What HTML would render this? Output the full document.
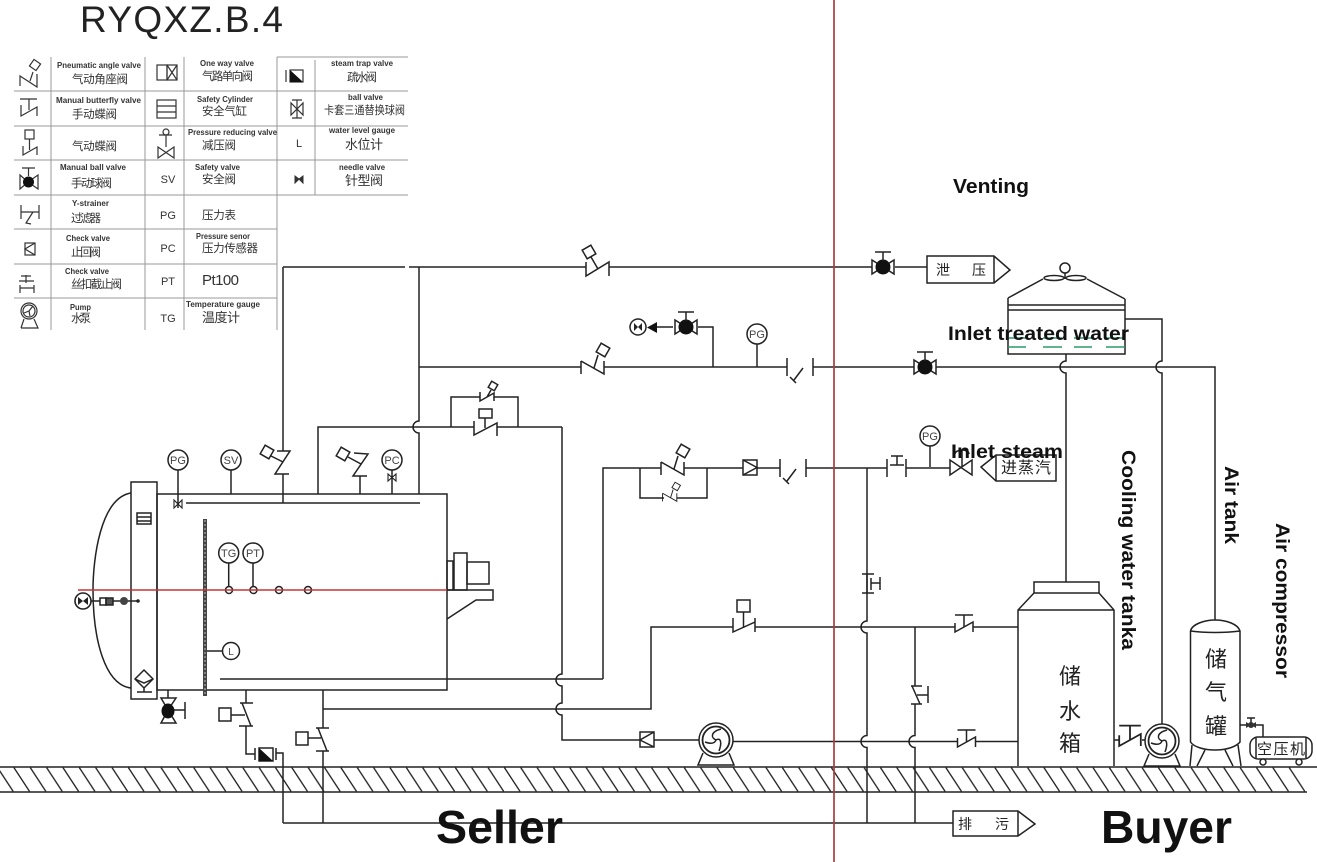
<!DOCTYPE html>
<html><head><meta charset="utf-8"><style>
html,body{margin:0;padding:0;background:#fff;width:1317px;height:862px;overflow:hidden}
svg{display:block}
.l{fill:none;stroke:#222;stroke-width:1.5}
.t{fill:none;stroke:#333;stroke-width:1.2}
.e{font-family:"Liberation Sans",sans-serif;font-size:8px;font-weight:bold;fill:#333}
.c{font-family:"Liberation Sans","Noto Sans CJK SC",sans-serif;font-size:11.5px;fill:#333}
.s{font-family:"Liberation Sans",sans-serif;font-size:11px;fill:#333;text-anchor:middle}
.b{font-family:"Liberation Sans",sans-serif;font-weight:bold;fill:#111}
.g{font-family:"Liberation Sans",sans-serif;font-size:11px;fill:#444;text-anchor:middle}
.k{font-family:"Liberation Sans","Noto Sans CJK SC",sans-serif;fill:#222;text-anchor:middle}
</style></head><body>
<svg width="1317" height="862" viewBox="0 0 1317 862" xmlns="http://www.w3.org/2000/svg">
<defs>
<g id="ball" class="l"><path d="M-11,-7V7L0,0ZM11,-7V7L0,0Z" fill="#fff"/><circle r="7.5" fill="#111" stroke="none"/><path d="M0,-6V-15M-8,-15H8"/></g>
<g id="pneu" class="l"><path d="M-11,-5V9L12,-5V9"/><rect x="-13" y="-20" width="10" height="10" transform="rotate(-30 -8 -15)" fill="#fff"/><path d="M-6,-10L1,2"/></g>
<g id="pneu2" class="l"><path d="M-12,-6V7M-12,-6L11,7V-6"/><rect x="5" y="-22" width="10" height="10" transform="rotate(30 10 -17)" fill="#fff"/><path d="M5,-12L1,1"/></g>
<g id="strainer" class="l"><path d="M-13,-9V9M13,-9V9M3,1L-6,13M-10,10L-4,16"/></g>
<g id="stop" class="l"><path d="M-9,-4V5L9,-5V5M0,0V-12M-9,-12H9"/></g>
<g id="check" class="l"><rect x="-7" y="-8" width="14" height="15" fill="#fff"/><path d="M7,-8L-7,0L7,7"/></g>
<g id="pump"><g class="l"><path d="M-13,13L-18,25H18L13,13"/><circle r="17" fill="#fff"/><circle r="13.500" stroke-width="1.800"/><path d="M0,0C-5,-2 -6,-8 5,-11M0,0C5,-3 6,3 3,11M0,0C-2,5 -8,3 -11,2"/></g></g>
<pattern id="hatch" x="13.550" y="767" width="16.350" height="25" patternUnits="userSpaceOnUse"><path d="M0,0L16.350,25" stroke="#222" stroke-width="1.3" fill="none"/></pattern>
</defs>

<!-- Title -->
<text x="80" y="32" font-family="Liberation Sans,sans-serif" font-size="37" fill="#222" textLength="203">RYQXZ.B.4</text>

<!-- Legend grid -->
<path d="M277,57H408M14,91H408M14,126H408M14,160H408M14,195H408M14,229H277M14,264H277M14,298H277M51,57V330M145,57V330M184,57V330M277,57V330M315,60V195" fill="none" stroke="#999" stroke-width="1"/>

<text class="e" x="57" y="68" textLength="84" lengthAdjust="spacingAndGlyphs">Pneumatic angle valve</text><text class="c" x="72" y="83" textLength="56">气动角座阀</text>
<text class="e" x="200" y="66" textLength="54" lengthAdjust="spacingAndGlyphs">One way valve</text><text class="c" x="202" y="80" textLength="51">气路单向阀</text>
<text class="e" x="331" y="66" textLength="62" lengthAdjust="spacingAndGlyphs">steam trap valve</text><text class="c" x="347" y="81" textLength="30">疏水阀</text>
<text class="e" x="56" y="103" textLength="85" lengthAdjust="spacingAndGlyphs">Manual butterfly valve</text><text class="c" x="72" y="118" textLength="45">手动蝶阀</text>
<text class="e" x="197" y="102" textLength="56" lengthAdjust="spacingAndGlyphs">Safety Cylinder</text><text class="c" x="202" y="115" textLength="45">安全气缸</text>
<text class="e" x="348" y="100" textLength="35" lengthAdjust="spacingAndGlyphs">ball valve</text><text class="c" x="324" y="114" textLength="81" lengthAdjust="spacingAndGlyphs">卡套三通替换球阀</text>
<text class="c" x="72" y="150" textLength="45">气动蝶阀</text>
<text class="e" x="188" y="135" textLength="89" lengthAdjust="spacingAndGlyphs">Pressure reducing valve</text><text class="c" x="202" y="149" textLength="34">减压阀</text>
<text class="e" x="329" y="133" textLength="66" lengthAdjust="spacingAndGlyphs">water level gauge</text><text class="c" x="345" y="149" textLength="38" style="font-size:13px">水位计</text>
<text class="e" x="60" y="170" textLength="66" lengthAdjust="spacingAndGlyphs">Manual ball valve</text><text class="c" x="71" y="187" textLength="41">手动球阀</text>
<text class="e" x="195" y="170" textLength="45" lengthAdjust="spacingAndGlyphs">Safety valve</text><text class="c" x="202" y="183" textLength="34">安全阀</text>
<text class="e" x="339" y="170" textLength="46" lengthAdjust="spacingAndGlyphs">needle valve</text><text class="c" x="345" y="185" textLength="38" style="font-size:13px">针型阀</text>
<text class="e" x="72" y="206" textLength="37" lengthAdjust="spacingAndGlyphs">Y-strainer</text><text class="c" x="71" y="222" textLength="30">过滤器</text>
<text class="c" x="202" y="219" textLength="34">压力表</text>
<text class="e" x="66" y="241" textLength="44" lengthAdjust="spacingAndGlyphs">Check valve</text><text class="c" x="71" y="256" textLength="30">止回阀</text>
<text class="e" x="196" y="239" textLength="54" lengthAdjust="spacingAndGlyphs">Pressure senor</text><text class="c" x="202" y="252" textLength="56">压力传感器</text>
<text class="e" x="65" y="274" textLength="44" lengthAdjust="spacingAndGlyphs">Check valve</text><text class="c" x="71" y="288" textLength="51">丝扣截止阀</text>
<text class="c" x="202" y="285" textLength="37" style="font-size:15px">Pt100</text>
<text class="e" x="70" y="310" textLength="21" lengthAdjust="spacingAndGlyphs">Pump</text><text class="c" x="71" y="322" textLength="20">水泵</text>
<text class="e" x="186" y="307" textLength="74" lengthAdjust="spacingAndGlyphs">Temperature gauge</text><text class="c" x="202" y="322" textLength="38" style="font-size:13px">温度计</text>
<text class="s" x="168" y="183">SV</text><text class="s" x="168" y="219">PG</text><text class="s" x="168" y="252">PC</text><text class="s" x="168" y="285">PT</text><text class="s" x="168" y="322">TG</text><text class="s" x="299" y="147">L</text>

<!-- Legend icons -->
<g class="t">
<path d="M20,86V76L37,87V74M33,72L30,81"/><rect x="31" y="61" width="8" height="8" transform="rotate(35 35 65)"/>
<path d="M20,99H37M29,99V110M21,105V116L37,107V116"/>
<rect x="25" y="130" width="9" height="9"/><path d="M29.500,139V150M23,146V155L37,147V155"/>
<path d="M22,168H35M28.500,168V176M20,175V189L28,182ZM38,175V189L28,182Z"/>
<path d="M21,205V219M39,205V219M21,212H39M33,212L26,223L31,224"/>
<rect x="25" y="243" width="10" height="12"/><path d="M35,243L25,249L35,255"/>
<path d="M19,281H34M26,275V283M21,276H31M20,285V293M34,285V293M20,288H34"/>
<circle cx="29" cy="311" r="8"/><circle cx="29" cy="311" r="6"/><path d="M29,311L33,306M29,311L24,313M29,311L30,316M21,328H38L34,319M24,319L21,328"/>
<rect x="157" y="65" width="10" height="15"/><rect x="167" y="65" width="10" height="15"/><path d="M167,65L177,80M177,65L167,80"/>
<rect x="157" y="100" width="19" height="18"/><path d="M157,106H176M157,112H176"/>
<circle cx="166" cy="132" r="3"/><path d="M159,135H172M166,135V147M158,147V158L174,147V158Z"/>
<path d="M286,70V82"/><rect x="290" y="70" width="13" height="12"/>
<path d="M292,100H302M297,100V118M292,118H302M291,103V115L303,103V115Z"/>
</g>
<circle cx="28.500" cy="182" r="5.500" fill="#111"/>
<path d="M290,70V82H303Z" fill="#111"/>
<path d="M295,176V183L299,179ZM303,176V183L299,179Z" fill="#333" stroke="#333"/>

<!-- Ground -->
<rect x="0" y="767" width="1305" height="25" fill="url(#hatch)"/>
<path d="M0,767H1317M0,792H1307" stroke="#222" stroke-width="1.4" fill="none"/>

<!-- Boiler -->
<g class="l">
<rect x="157" y="494" width="290" height="196"/>
<rect x="131" y="482" width="26" height="217"/>
<path d="M131,493C100,498 93,560 93,590C93,640 105,685 131,688"/>
<path d="M186,503H420M220,679H603"/>
<path d="M178,470V508M231,470V494"/>
<!-- vertical vent with pneumatic valve -->
<path d="M283,267V451M277,451H290L275,474H289M283,474V503"/>
<rect x="262" y="447" width="10" height="10" transform="rotate(30 267 452)" fill="#fff"/><path d="M271,456L283,462"/>
<path d="M318,494V427H414M419,494V433a6,6 0 0 1 0,-12V267"/>
<path d="M354,453L368,454L353,476H367M360,476V494"/>
<rect x="338" y="449" width="10" height="10" transform="rotate(30 343 454)" fill="#fff"/><path d="M348,457L361,464"/>
<path d="M392,470V494"/>
<path d="M228.700,563V586M253,563V586"/>
<path d="M205,651H223"/>
<rect x="447" y="561" width="6" height="29"/><rect x="454" y="553" width="13" height="37"/><rect x="467" y="562" width="22" height="22"/>
<path d="M447,590H493V600H476L447,619"/>
<rect x="137" y="513" width="14" height="11"/><path d="M137,517H151M137,521H151"/>
<path d="M144,670L153,679L144,688L135,679ZM135,679L144,683L153,679M144,688V692M137,692H152"/>
<circle cx="178" cy="460" r="10" fill="#fff"/><circle cx="231" cy="460" r="10" fill="#fff"/><circle cx="392" cy="460" r="10" fill="#fff"/><circle cx="228.700" cy="553" r="10" fill="#fff"/><circle cx="253" cy="553" r="10" fill="#fff"/><circle cx="231" cy="651" r="8.500" fill="#fff"/>
<circle cx="229" cy="590" r="3.500"/><circle cx="253.500" cy="590" r="3.500"/><circle cx="279" cy="590" r="3.500"/><circle cx="308" cy="590" r="3.500"/>
</g>
<text class="g" x="178" y="464">PG</text><text class="g" x="231" y="464">SV</text><text class="g" x="392" y="464">PC</text><text class="g" x="228.700" y="557">TG</text><text class="g" x="253" y="557">PT</text><text class="g" x="231" y="655" style="font-size:10px">L</text>
<rect x="203" y="519" width="4" height="177" fill="#444"/><path d="M205,520V695" stroke="#aaa" stroke-width="1.2" stroke-dasharray="2 2" fill="none"/>
<path d="M174,500V508L182,500V508Z" fill="none" stroke="#222" stroke-width="1.1"/><path d="M388,474V481L396,474V481Z" fill="none" stroke="#222" stroke-width="1.1"/>

<!-- Left instruments -->
<g class="l"><circle cx="83" cy="601" r="8" stroke-width="1.6"/><path d="M91,601H138"/><rect x="100" y="598" width="6" height="7" fill="#fff"/><rect x="106" y="598" width="7" height="7" fill="#555"/></g>
<path d="M78,597V605L83,601ZM88,597V605L83,601Z" fill="#222"/><circle cx="124" cy="601" r="4" fill="#444"/><circle cx="138" cy="601" r="1.800" fill="#222"/>
<path d="M78,590H447" stroke="#c53535" stroke-width="1.6" fill="none"/>

<!-- Under boiler -->
<g class="l"><path d="M168,690V698M161,698H176L168,710ZM161,723H176L168,710ZM185,702V719M168,710H185"/></g>
<ellipse cx="168" cy="711" rx="6.500" ry="7.500" fill="#111"/>
<g class="l">
<path d="M246,690V703M240,703H253M242,703L251,726M239,726H253M246,726V754H255M231,715H245"/><rect x="219" y="708" width="12" height="13"/>
<path d="M323,690V728M316,728H329M318,728L327,751M316,751H329M323,751V823M308,738H321"/><rect x="296" y="732" width="12" height="13"/>
<path d="M255,748V760M276,748V760M276,753H283V823"/><rect x="259" y="748" width="14" height="13"/>
</g>
<path d="M259,748V761H273Z" fill="#111"/>

<!-- Pipes -->
<g class="l">
<path d="M283,267H405M409,267H586M609,267H872M895,267H927"/>
<path d="M419,367H581M604,367H787M813,367H914M936,367H1215V620"/>
<path d="M414,427H474M497,427H562"/>
<path d="M713,367V327H698M673,327H657"/>
<path d="M757,344V367"/>
<path d="M451,427V397H480M494,397H518V427"/>
<path d="M562,427V674a6,6 0 0 0 0,12V703a6,6 0 0 0 0,12V740H640M654,740H699"/>
<path d="M323,709H651V627H733M755,627H955M973,627H1018"/>
<path d="M603,679V468H661M684,468H743M757,468H780M806,468H887M906,468H950"/>
<path d="M640,468V498H664M677,498H707V468"/>
<path d="M733,741.500H957M976,741.500H1018"/>
<path d="M867,468V621a6,6 0 0 0 0,12V735.500a6,6 0 0 0 0,12V823"/>
<path d="M915,627V686M915,704V735.500a6,6 0 0 0 0,12V823"/>
<path d="M283,823H953"/>
<path d="M930,446V467"/>
<path d="M1066,354V361a6,6 0 0 0 0,12V582"/>
<path d="M1125,319H1162V361a6,6 0 0 0 0,12V724"/>
</g>

<!-- Valves -->
<use href="#pneu" transform="translate(597,267)"/>
<use href="#ball" transform="translate(883,267)"/>
<use href="#pneu2" transform="translate(593,367)"/>
<use href="#ball" transform="translate(686,327)"/>
<use href="#ball" transform="translate(925,367)"/>
<use href="#strainer" transform="translate(800,367)"/>
<use href="#pneu2" transform="translate(673,468)"/>
<use href="#pneu2" transform="translate(670,497) scale(.62)"/>
<path d="M480,392V401L494,393V401M491,390L487,397" class="l"/><rect x="489.500" y="382.500" width="7" height="7" transform="rotate(30 493 386)" class="l" fill="#fff"/>
<rect x="743" y="460" width="14" height="15" fill="#fff" class="l"/><path d="M743,460L757,467.500L743,475" class="l"/>
<use href="#strainer" transform="translate(793,468)"/>
<g class="l"><path d="M887,459V477M906,459V477M891,456H903M897,456V465M890,465H904"/></g>
<path d="M950,460V475L972,460V475Z" class="l" fill="#fff"/>
<path d="M955,454a7,4 0 0 1 14,0M962,450V467" class="l"/>
<!-- large stop valves -->
<g class="l"><rect x="737" y="600" width="13" height="12" fill="#fff"/><path d="M743.500,612V628M733,618V632L755,622V618M755,618V632"/></g>
<g class="l"><rect x="479" y="409" width="13" height="9" fill="#fff"/><path d="M485,418V428M474,421V435L497,423V436"/></g>
<use href="#stop" transform="translate(964,627)"/>
<use href="#stop" transform="translate(966.500,742)"/>
<use href="#stop" transform="translate(1130,740) scale(1.200)"/>
<path d="M1114,740H1119M1142,740H1145" class="l"/>
<g class="l"><path d="M862,574H874M862,593H874M867,574V593M871,578V590M871,583H880M880,577V590"/><path d="M911,686H922M911,704H922M912,686L920,704M917,695H928M928,686V703"/></g>

<use href="#check" transform="translate(647,740)"/>
<use href="#pump" transform="translate(716,740)"/>
<use href="#pump" transform="translate(1162,741)"/>
<circle cx="638" cy="327" r="8" class="l" fill="#fff"/><path d="M634,323V331L638,327ZM642,323V331L638,327Z" fill="#222"/>
<path d="M657,322V333L647,327.500Z" fill="#111"/>

<!-- PG gauges right -->
<ellipse cx="757" cy="334" rx="10" ry="10" class="l" fill="#fff"/><text class="g" x="757" y="338">PG</text>
<ellipse cx="930" cy="436" rx="10" ry="10" class="l" fill="#fff"/><text class="g" x="930" y="440">PG</text>

<!-- Signs -->
<g class="l"><path d="M927,256H994L1010,270L994,283H927ZM994,256V283"/>
<path d="M981,467L996,455H1056V481H996ZM996,455V481"/>
<path d="M953,811H1018L1035,824L1018,836H953ZM1018,811V836"/></g>
<text class="k" x="943" y="275" font-size="14">泄</text><text class="k" x="979" y="275" font-size="14">压</text>
<text class="k" x="1026" y="473" font-size="16" textLength="50">进蒸汽</text>
<text class="k" x="965" y="829" font-size="14">排</text><text class="k" x="1002" y="829" font-size="14">污</text>

<!-- Cooling tower -->
<g class="l">
<path d="M1008,298L1043,279M1087,279L1125,299M1008,298V354H1125V299M1008,305H1125M1008,310H1125"/>
<circle cx="1065" cy="268" r="5" fill="#fff"/><path d="M1065,273V279"/>
<ellipse cx="1054" cy="278" rx="10" ry="2.500"/><ellipse cx="1076" cy="278" rx="10" ry="2.500"/>
</g>
<path d="M1008,338H1026M1043,338H1062M1074,338H1092M1106,338H1125M1008,347H1026M1043,347H1062M1074,347H1092M1106,347H1125" stroke="#2a9a6a" stroke-width="1.4" fill="none"/>

<!-- Water tank -->
<g class="l">
<rect x="1034" y="582" width="65" height="11" fill="#fff"/>
<path d="M1034,593L1018,610V766M1099,593L1114,610V766M1018,610H1114"/>
</g>
<text class="k" x="1070" y="684" font-size="22">储</text><text class="k" x="1070" y="719" font-size="22">水</text><text class="k" x="1070" y="751" font-size="22">箱</text>

<!-- Air tank -->
<g class="l">
<path d="M1190.500,631C1192,624 1205,620 1215,620C1226,620 1238,624 1240,631V742C1236,747 1226,750 1215,750C1204,750 1194,747 1190.500,742ZM1190.500,631C1205,633 1225,633 1240,631"/>
<path d="M1192,745L1190,766M1205,750L1197,766M1225,750L1233,766M1238,745L1241,766"/>
<path d="M1240,725H1263V737"/>
<rect x="1250" y="737" width="62" height="22" rx="8" fill="#fff"/><path d="M1256,738V758M1306,738V758"/>
<circle cx="1263" cy="762" r="3" fill="#fff"/><circle cx="1299" cy="762" r="3" fill="#fff"/>
<path d="M1247,718H1255M1251,718V725"/>
</g>
<circle cx="1251" cy="725" r="3" fill="#333"/><path d="M1246,722V728L1251,725ZM1256,722V728L1251,725Z" fill="#333"/>
<text class="k" x="1216" y="667" font-size="22">储</text><text class="k" x="1216" y="700" font-size="22">气</text><text class="k" x="1216" y="734" font-size="22">罐</text>
<text class="k" x="1281" y="754" font-size="15" textLength="48">空压机</text>

<!-- Red divider -->
<path d="M834,0V862" stroke="#a83c3c" stroke-width="1.7" fill="none"/>

<!-- Labels -->
<text class="b" x="953" y="193" font-size="20" textLength="76" lengthAdjust="spacingAndGlyphs">Venting</text>
<text class="b" x="948" y="340" font-size="19" textLength="181" lengthAdjust="spacingAndGlyphs">Inlet treated water</text>
<text class="b" x="951" y="458" font-size="19" textLength="112" lengthAdjust="spacingAndGlyphs">Inlet steam</text>
<text class="b" font-size="19" transform="translate(1122,450) rotate(90)" textLength="200" lengthAdjust="spacingAndGlyphs">Cooling water tanka</text>
<text class="b" font-size="19" transform="translate(1225,466) rotate(90)" textLength="78" lengthAdjust="spacingAndGlyphs">Air tank</text>
<text class="b" font-size="19" transform="translate(1276,523) rotate(90)" textLength="155" lengthAdjust="spacingAndGlyphs">Air compressor</text>
<text class="b" x="436" y="843" font-size="46" textLength="127" lengthAdjust="spacingAndGlyphs">Seller</text>
<text class="b" x="1101" y="843" font-size="46" textLength="131" lengthAdjust="spacingAndGlyphs">Buyer</text>
</svg>
</body></html>
